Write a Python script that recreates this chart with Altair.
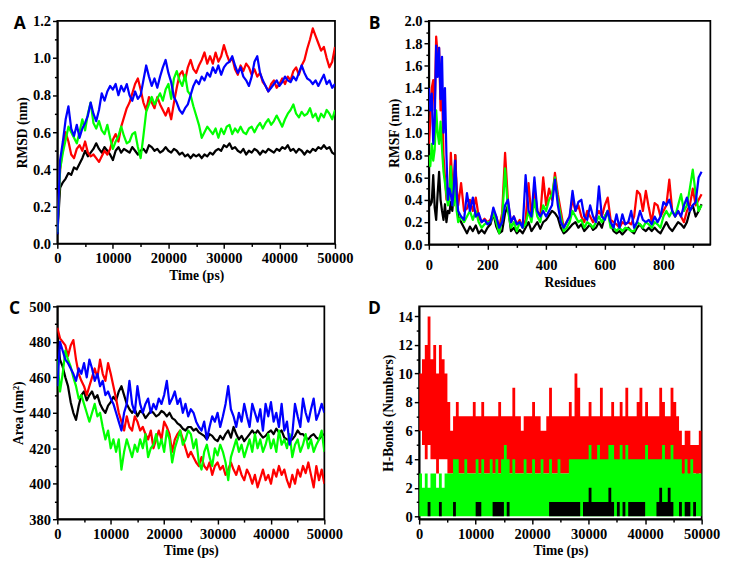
import altair as alt
import pandas as pd

# ---------------- data ----------------
TIME = list(range(0, 50001, 500))  # 101 samples, ps

rmsd_black = [0.05,0.30,0.33,0.35,0.38,0.37,0.41,0.40,0.43,0.46,
 0.50,0.47,0.49,0.51,0.54,0.51,0.49,0.52,0.50,0.48,
 0.45,0.50,0.52,0.49,0.51,0.50,0.49,0.52,0.50,0.48,
 0.50,0.51,0.49,0.53,0.52,0.50,0.51,0.49,0.50,0.52,
 0.50,0.49,0.51,0.50,0.48,0.49,0.47,0.48,0.46,0.48,
 0.47,0.48,0.46,0.48,0.47,0.49,0.48,0.50,0.51,0.50,
 0.53,0.52,0.54,0.51,0.52,0.50,0.49,0.51,0.48,0.50,
 0.49,0.51,0.50,0.48,0.50,0.49,0.51,0.50,0.49,0.51,
 0.50,0.52,0.51,0.53,0.50,0.51,0.49,0.51,0.50,0.48,
 0.50,0.49,0.51,0.50,0.52,0.51,0.53,0.51,0.52,0.49,
 0.48]
rmsd_red = [0.08,0.40,0.52,0.60,0.55,0.48,0.46,0.51,0.53,0.50,
 0.55,0.49,0.47,0.48,0.46,0.44,0.47,0.50,0.48,0.51,
 0.56,0.59,0.55,0.63,0.68,0.73,0.76,0.81,0.86,0.89,
 0.83,0.76,0.72,0.79,0.76,0.73,0.79,0.75,0.72,0.69,
 0.73,0.67,0.76,0.84,0.91,0.93,0.88,0.95,0.99,0.94,
 0.92,0.96,0.99,1.03,0.97,1.01,0.97,1.03,0.98,1.01,
 1.07,1.02,0.98,1.00,0.94,0.91,0.96,0.93,0.97,0.95,
 0.91,0.94,0.90,0.92,0.87,0.85,0.82,0.86,0.88,0.84,
 0.86,0.89,0.86,0.90,0.88,0.93,0.95,0.91,0.96,0.99,
 1.05,1.10,1.16,1.12,1.08,1.04,1.06,1.00,0.95,0.98,
 1.06]
rmsd_green = [0.06,0.40,0.49,0.56,0.63,0.60,0.57,0.54,0.60,0.67,
 0.61,0.70,0.76,0.65,0.62,0.66,0.61,0.59,0.64,0.57,
 0.51,0.55,0.58,0.63,0.58,0.54,0.55,0.59,0.60,0.52,
 0.46,0.58,0.71,0.75,0.79,0.75,0.78,0.81,0.77,0.83,
 0.86,0.78,0.89,0.93,0.88,0.85,0.91,0.82,0.80,0.74,
 0.69,0.64,0.57,0.60,0.63,0.61,0.59,0.62,0.57,0.62,
 0.59,0.63,0.64,0.59,0.62,0.60,0.63,0.60,0.59,0.62,
 0.63,0.60,0.63,0.65,0.62,0.65,0.67,0.64,0.66,0.69,
 0.66,0.63,0.67,0.70,0.72,0.75,0.70,0.68,0.71,0.69,
 0.70,0.73,0.68,0.70,0.66,0.70,0.68,0.72,0.70,0.67,
 0.72]
rmsd_blue = [0.05,0.45,0.55,0.67,0.74,0.62,0.58,0.64,0.57,0.62,
 0.65,0.69,0.76,0.70,0.66,0.72,0.81,0.77,0.82,0.85,
 0.83,0.86,0.80,0.85,0.82,0.86,0.80,0.77,0.82,0.78,
 0.80,0.88,0.96,0.90,0.85,0.89,0.84,0.90,0.95,0.99,
 0.92,0.87,0.79,0.76,0.72,0.70,0.73,0.75,0.80,0.85,
 0.88,0.86,0.90,0.88,0.92,0.90,0.95,0.92,0.96,0.91,
 0.95,0.97,0.98,1.01,0.96,0.92,0.95,0.90,0.88,0.85,
 0.90,0.98,1.01,0.92,0.88,0.85,0.82,0.84,0.86,0.88,
 0.85,0.87,0.90,0.88,0.87,0.90,0.88,0.92,0.96,0.92,
 0.89,0.88,0.86,0.88,0.85,0.88,0.91,0.86,0.88,0.84,
 0.86]

RES = list(range(0, 101, 5)) + list(range(110, 931, 10))  # 104 residues

rmsf_black = [0.42,0.35,0.38,0.62,0.33,0.22,0.45,0.65,0.40,0.30,0.22,0.36,0.20,0.30,0.28,0.38,0.30,0.45,0.80,0.40,0.25,
 0.20,0.15,0.10,0.16,0.12,0.17,0.10,0.13,0.10,0.15,
 0.18,0.28,0.16,0.10,0.12,0.28,0.35,0.12,0.15,0.10,
 0.13,0.10,0.15,0.20,0.12,0.16,0.20,0.14,0.20,0.22,
 0.26,0.30,0.28,0.24,0.15,0.10,0.12,0.15,0.18,0.20,
 0.15,0.18,0.12,0.15,0.18,0.13,0.15,0.20,0.15,0.25,
 0.30,0.18,0.12,0.10,0.12,0.09,0.12,0.15,0.12,0.10,
 0.15,0.18,0.14,0.12,0.15,0.12,0.15,0.12,0.10,0.15,
 0.20,0.15,0.12,0.16,0.20,0.18,0.15,0.20,0.30,0.35,
 0.25,0.30,0.36]
rmsf_red = [0.90,1.10,1.40,1.47,1.20,1.86,1.70,1.76,1.20,1.40,0.80,0.60,0.40,0.50,0.45,0.82,0.55,0.35,0.80,0.50,0.35,
 0.55,0.30,0.32,0.40,0.30,0.42,0.25,0.20,0.23,0.20,
 0.22,0.30,0.25,0.15,0.28,0.82,0.38,0.20,0.25,0.18,
 0.22,0.15,0.22,0.55,0.25,0.50,0.30,0.25,0.60,0.35,
 0.50,0.40,0.64,0.45,0.30,0.15,0.20,0.25,0.40,0.30,
 0.35,0.25,0.20,0.30,0.25,0.20,0.25,0.30,0.25,0.35,
 0.42,0.22,0.20,0.18,0.15,0.20,0.18,0.20,0.18,0.25,
 0.48,0.45,0.30,0.48,0.33,0.20,0.37,0.35,0.25,0.30,
 0.35,0.58,0.30,0.25,0.30,0.25,0.20,0.30,0.35,0.50,
 0.35,0.40,0.45]
rmsf_green = [0.80,0.70,0.90,0.75,0.85,1.20,1.00,0.90,1.10,0.85,0.65,0.55,0.45,0.35,0.40,0.70,0.45,0.35,0.55,0.30,0.20,
 0.25,0.20,0.25,0.30,0.22,0.30,0.20,0.15,0.18,0.20,
 0.20,0.28,0.20,0.10,0.22,0.68,0.30,0.15,0.20,0.12,
 0.20,0.15,0.18,0.30,0.20,0.40,0.25,0.20,0.35,0.30,
 0.40,0.45,0.60,0.40,0.25,0.12,0.15,0.20,0.30,0.25,
 0.20,0.22,0.15,0.20,0.18,0.15,0.20,0.25,0.20,0.25,
 0.30,0.15,0.15,0.12,0.15,0.12,0.15,0.14,0.12,0.12,
 0.20,0.18,0.15,0.20,0.18,0.15,0.20,0.18,0.15,0.25,
 0.30,0.25,0.30,0.25,0.35,0.45,0.30,0.35,0.50,0.67,
 0.45,0.30,0.35]
rmsf_blue = [1.40,1.20,1.35,0.90,1.10,1.78,1.50,1.76,1.30,1.68,1.00,1.40,0.80,0.40,0.50,0.45,0.35,0.50,0.75,0.45,0.30,
 0.25,0.22,0.46,0.30,0.42,0.25,0.28,0.20,0.22,0.18,
 0.20,0.33,0.25,0.15,0.20,0.35,0.40,0.20,0.25,0.18,
 0.20,0.15,0.62,0.30,0.25,0.60,0.30,0.25,0.30,0.25,
 0.30,0.35,0.58,0.35,0.20,0.15,0.20,0.25,0.48,0.30,
 0.38,0.40,0.25,0.22,0.35,0.25,0.20,0.52,0.25,0.22,
 0.30,0.20,0.15,0.27,0.15,0.27,0.18,0.20,0.30,0.15,
 0.20,0.30,0.22,0.20,0.22,0.18,0.25,0.20,0.25,0.38,
 0.35,0.40,0.30,0.25,0.30,0.25,0.35,0.42,0.30,0.35,
 0.38,0.60,0.65]

sasa_black = [485,470,466,460,455,446,440,436,444,450,
 452,447,450,452,448,450,445,442,440,444,
 446,449,447,452,455,450,445,442,440,442,
 438,441,440,437,439,441,440,438,439,441,
 440,438,440,437,436,434,433,431,430,432,
 432,430,431,429,428,427,425,428,427,425,
 424,427,425,428,430,426,432,428,425,427,
 424,426,428,430,428,430,428,426,427,429,
 430,428,431,429,430,426,425,424,425,427,
 430,428,428,426,425,427,428,426,425,427,
 428]
sasa_red = [488,482,480,478,472,478,481,470,462,458,
 455,450,455,460,465,460,470,462,458,468,
 462,455,448,440,435,430,438,432,430,438,
 435,430,432,428,425,430,420,425,430,425,
 435,432,428,418,425,428,430,425,420,415,
 418,415,412,410,415,410,408,412,405,410,
 412,408,410,405,408,412,408,405,410,405,
 402,408,405,400,405,398,403,408,402,405,
 400,408,404,410,405,408,402,398,405,400,
 408,404,410,406,412,405,398,410,402,408,
 400]
sasa_green = [470,452,462,475,470,466,460,455,448,450,
 445,440,435,440,445,438,440,432,425,430,
 420,425,418,425,408,418,425,420,415,422,
 418,425,420,428,415,420,422,428,420,425,
 418,430,425,412,420,425,430,422,425,430,
 428,420,425,412,408,418,422,415,410,420,
 416,422,418,412,402,415,420,425,418,422,
 415,420,425,418,428,420,425,418,422,428,
 420,425,418,430,422,425,420,428,415,422,
 425,418,422,428,420,425,418,422,425,430,
 418]
sasa_blue = [455,480,475,470,468,465,462,458,465,462,
 468,460,470,465,458,462,455,458,450,452,
 448,445,440,435,430,440,445,458,445,440,
 455,445,440,445,448,440,445,442,448,445,
 450,458,445,448,452,445,448,440,445,438,
 442,440,435,432,430,435,425,432,438,435,
 440,432,438,445,455,442,438,432,440,435,
 445,438,432,445,440,435,442,430,445,438,
 446,435,440,432,445,430,435,422,428,445,
 438,432,448,440,435,442,448,436,440,445,
 440]

HB_T = list(range(0, 50001, 500))  # 100 bins of 500 ps + closing edge
hb_red_high = [10,11,12,14,11,12,10,12,11,10,
 8,6,7,8,7,7,7,7,7,8,
 7,7,8,7,7,7,7,7,8,7,
 7,7,7,9,7,7,6,7,7,7,
 8,7,7,6,6,7,9,7,7,7,
 7,7,7,8,7,10,9,7,7,7,
 8,7,7,7,9,7,7,7,8,7,
 7,8,7,9,7,7,7,8,9,7,
 8,7,7,7,7,9,8,7,7,9,
 8,7,6,5,6,6,5,5,5,6]
hb_red_low = [6,5,4,5,4,4,3,4,4,4,
 3,3,3,3,3,3,3,3,3,3,
 3,3,3,3,3,3,3,3,3,3,
 3,3,3,3,3,3,3,3,3,3,
 3,3,3,3,3,3,3,3,3,3,
 3,3,3,3,3,3,3,3,3,3,
 3,3,3,3,3,3,3,3,3,3,
 3,3,3,3,3,3,3,3,3,3,
 3,3,3,3,3,3,3,3,3,3,
 3,3,3,2,3,2,2,3,2,3]
hb_green = [3,2,3,2,3,3,2,3,2,3,
 3,3,4,4,3,3,4,3,3,3,
 4,3,4,3,3,4,3,4,3,4,
 5,4,3,4,3,3,3,4,3,3,
 4,3,3,4,3,3,4,3,3,4,
 3,3,3,4,4,4,4,4,4,4,
 5,4,4,5,4,4,4,5,5,4,
 4,5,4,5,4,4,4,4,4,4,
 5,4,4,4,4,4,5,4,4,5,
 4,4,4,3,4,3,4,3,3,3]
hb_black = [0,0,0,1,0,0,0,1,0,0,
 0,0,1,0,0,0,0,0,0,0,
 1,1,0,0,0,0,1,1,1,1,
 0,1,0,0,0,0,0,0,0,0,
 0,0,0,0,0,0,1,1,1,1,
 1,1,1,1,1,1,1,0,1,1,
 2,1,1,1,1,1,1,2,1,0,
 1,0,1,0,1,1,1,1,1,1,
 0,0,0,0,1,2,1,1,2,1,
 0,0,1,0,1,1,0,1,0,0]

# ---------------- styling ----------------
SERIF = "Liberation Serif"
LETTER_FONT = "Open Sans"
BLACK, RED, GREEN, BLUE = "#000000", "#ff0000", "#00ff00", "#0000ff"
LW = 2.3


def make_axis(title, values, test, fmt, label_pad=2, title_pad=3):
    return alt.Axis(
        title=title,
        values=values,
        format=fmt,
        labelExpr=f"({test}) ? datum.label : ''",
        tickSize={"condition": {"test": test, "value": 5}, "value": 3},
        labelPadding=label_pad,
        titlePadding=title_pad,
        labelFlush=False,
        labelFont=SERIF,
        labelFontWeight="bold",
        labelFontSize=15,
        labelColor="black",
        titleFont=SERIF,
        titleFontWeight="bold",
        titleFontSize=14,
        titleColor="black",
    )


def letter_layer(letter, dx):
    return alt.Chart(pd.DataFrame({"t": [letter]})).mark_text(
        font=LETTER_FONT, fontWeight="bold", fontSize=18, align="left",
        baseline="top", color="black"
    ).encode(text="t:N", x=alt.value(dx), y=alt.value(-6))


def line_panel(xs, series, xscale, yscale, xaxis, yaxis, w, h, letter, ldx):
    layers = []
    for color, ys in series:
        df = pd.DataFrame({"x": xs, "y": ys})
        layers.append(
            alt.Chart(df).mark_line(color=color, strokeWidth=LW, strokeJoin="round", clip=True)
            .encode(x=alt.X("x:Q", scale=xscale, axis=xaxis),
                    y=alt.Y("y:Q", scale=yscale, axis=yaxis))
        )
    layers.append(letter_layer(letter, ldx))
    return alt.layer(*layers).properties(width=w, height=h)


time_axis = make_axis("Time (ps)", list(range(0, 50001, 5000)), "datum.value % 10000 === 0", "d",
                      label_pad=3, title_pad=3)
time_scale = alt.Scale(domain=[0, 50000], nice=False, zero=False)

# Panel A
panel_a = line_panel(
    TIME,
    [(BLACK, rmsd_black), (RED, rmsd_red), (GREEN, rmsd_green), (BLUE, rmsd_blue)],
    time_scale,
    alt.Scale(domain=[0, 1.2], nice=False, zero=False),
    time_axis,
    make_axis("RMSD (nm)", [round(i * 0.1, 1) for i in range(13)],
              "round(datum.value * 10) % 2 === 0", ".1f"),
    287, 230, "A", -45,
)

# Panel B
panel_b = line_panel(
    RES,
    [(BLACK, rmsf_black), (RED, rmsf_red), (GREEN, rmsf_green), (BLUE, rmsf_blue)],
    alt.Scale(domain=[0, 960], nice=False, zero=False),
    alt.Scale(domain=[0, 2.0], nice=False, zero=False),
    make_axis("Residues", list(range(0, 901, 100)), "datum.value % 200 === 0", "d",
              label_pad=9, title_pad=3),
    make_axis("RMSF (nm)", [round(i * 0.1, 1) for i in range(21)],
              "round(datum.value * 10) % 2 === 0", ".1f"),
    291, 231, "B", -62,
)

# Panel C
panel_c = line_panel(
    TIME,
    [(BLACK, sasa_black), (RED, sasa_red), (GREEN, sasa_green), (BLUE, sasa_blue)],
    time_scale,
    alt.Scale(domain=[380, 500], nice=False, zero=False),
    time_axis,
    make_axis("Area (nm²)", list(range(380, 501, 10)), "datum.value % 20 === 0", "d"),
    276, 220, "C", -50,
)

# Panel D
def ext(v):
    return v + [v[-1]]

d_red = pd.DataFrame({"x": HB_T, "lo": ext(hb_red_low), "hi": ext(hb_red_high)})
d_green = pd.DataFrame({"x": HB_T, "lo": [0] * len(HB_T), "hi": ext(hb_green)})
d_black = pd.DataFrame({"x": HB_T, "lo": [0] * len(HB_T), "hi": ext(hb_black)})

hb_yscale = alt.Scale(domain=[-0.2, 14.7], nice=False, zero=False)
hb_yaxis = make_axis("H-Bonds (Numbers)", list(range(0, 15)), "datum.value % 2 === 0", "d")

d_layers = []
for color, df in [(RED, d_red), (GREEN, d_green), (BLACK, d_black)]:
    d_layers.append(
        alt.Chart(df).mark_area(color=color, interpolate="step-after", clip=True, opacity=1)
        .encode(x=alt.X("x:Q", scale=time_scale, axis=time_axis),
                y=alt.Y("lo:Q", scale=hb_yscale, axis=hb_yaxis),
                y2="hi:Q")
    )
d_layers.append(letter_layer("D", -53))
panel_d = alt.layer(*d_layers).properties(width=292, height=220)

top = alt.hconcat(panel_a, panel_b, spacing=14)
bottom = alt.hconcat(panel_c, panel_d, spacing=24)

chart = alt.vconcat(top, bottom, spacing=9).properties(
    padding={"left": 0, "top": -4, "right": 0, "bottom": 0}
).configure_axis(
    domainColor="black", domainWidth=1.8, tickColor="black", tickWidth=1.5,
    labelFont=SERIF, labelFontWeight="bold", labelFontSize=15, labelColor="black",
    titleFont=SERIF, titleFontWeight="bold", titleFontSize=14, titleColor="black",
    grid=False, labelOverlap=False, labelFlush=False,
).configure_view(stroke="black", strokeWidth=1.8)

chart.save("out.html", embed_options={"renderer": "svg", "actions": False})
